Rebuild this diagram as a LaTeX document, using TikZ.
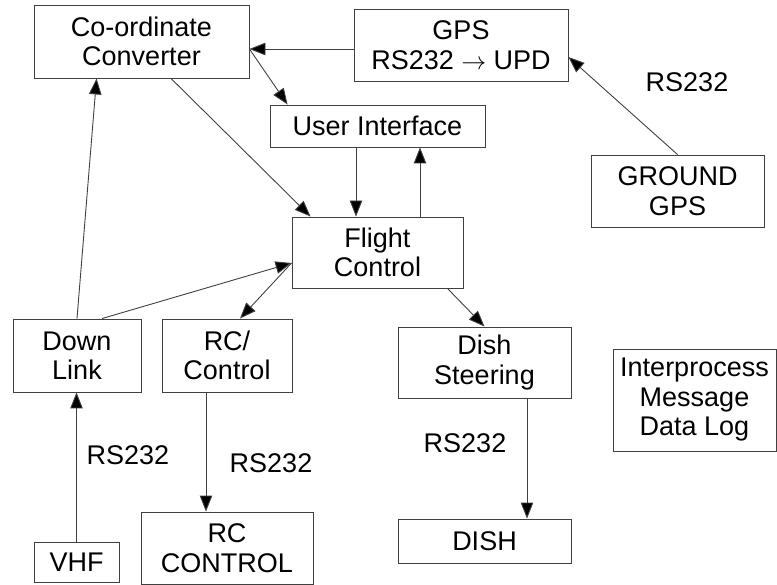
\documentclass[tikz,border=0pt]{standalone}
\usepackage{fontspec}
\setmainfont{Liberation Sans}
\usetikzlibrary{positioning,arrows.meta}

\begin{document}
\begin{tikzpicture}[x=1pt,y=-1pt,
  box/.style={draw=black!75, line width=0.9pt, inner sep=0pt, align=center,
    font=\fontsize{27}{29.5}\selectfont},
  lbl/.style={inner sep=0pt, font=\fontsize{27}{29.5}\selectfont},
  arr/.style={draw=black!75, line width=0.9pt, -{Triangle[length=16pt,width=12.5pt,fill=black]}}]
  \useasboundingbox (0,0) rectangle (777,585);
  \node[box, minimum width=215pt, minimum height=73pt] (conv) at (141.5,41.5) {Co-ordinate\\Converter};
  \node[box, minimum width=214pt, minimum height=72pt] (gps) at (461,45) {GPS\\RS232 $\rightarrow$ UPD};
  \node[box, minimum width=215pt, minimum height=42pt] (ui) at (377.5,126) {User Interface};
  \node[box, minimum width=173pt, minimum height=72pt] (ggps) at (677.5,191) {GROUND\\GPS};
  \node[box, minimum width=171pt, minimum height=71pt] (fc) at (377.5,252.5) {Flight\\Control};
  \node[box, minimum width=128pt, minimum height=73pt] (down) at (77,355.5) {Down\\Link};
  \node[box, minimum width=130pt, minimum height=73pt] (rc) at (227,355.5) {RC/\\Control};
  \node[box, minimum width=173pt, minimum height=71pt] (steer) at (484.5,362.5) {Dish\\Steering};
  \node[box, minimum width=163pt, minimum height=102pt] (log) at (694.5,400) {Interprocess\\Message\\Data Log};
  \node[box, minimum width=85pt, minimum height=40pt] (vhf) at (76.5,562) {VHF};
  \node[box, minimum width=172pt, minimum height=72pt] (rcc) at (227,548) {RC\\CONTROL};
  \node[box, minimum width=173pt, minimum height=44pt] (dish) at (484.5,541) {DISH};

  \node[lbl] (l1) at (687,82) {RS232};
  \node[lbl] (l2) at (128,455) {RS232};
  \node[lbl] (l3) at (271,463) {RS232};
  \node[lbl] (l4) at (465,443) {RS232};

  \draw[arr] ([yshift=-4pt]gps.west) -- ([yshift=-4pt]gps.west -| conv.east);
  \draw[arr] ([yshift=-7.5pt]conv.east) -- ([xshift=18pt]ui.north west);
  \draw[arr] ([xshift=29.5pt]conv.south) -- ([xshift=19pt]fc.north west);
  \draw[arr] ([xshift=-21.5pt]ui.south) -- ([xshift=-21.5pt]ui.south |- fc.north);
  \draw[arr] ([xshift=42.5pt]fc.north) -- ([xshift=42.5pt]fc.north |- ui.south);
  \draw[arr] (ggps.north) -- ([yshift=-12pt]gps.east);
  \draw[arr] (down.north) -- ([xshift=63pt]conv.south west);
  \draw[arr] ([xshift=25pt]down.north) -- ([yshift=-10.5pt]fc.west);
  \draw[arr] ([yshift=-10.5pt]fc.west) -- ([xshift=13pt]rc.north);
  \draw[arr] ([xshift=-16pt]fc.south east) -- (steer.north);
  \draw[arr] ([xshift=42.5pt]steer.south) -- ([xshift=42.5pt]steer.south |- dish.north);
  \draw[arr] (vhf.north) -- (vhf.north |- down.south);
  \draw[arr] ([xshift=-21pt]rc.south) -- ([xshift=-21pt]rc.south |- rcc.north);
\end{tikzpicture}
\end{document}
